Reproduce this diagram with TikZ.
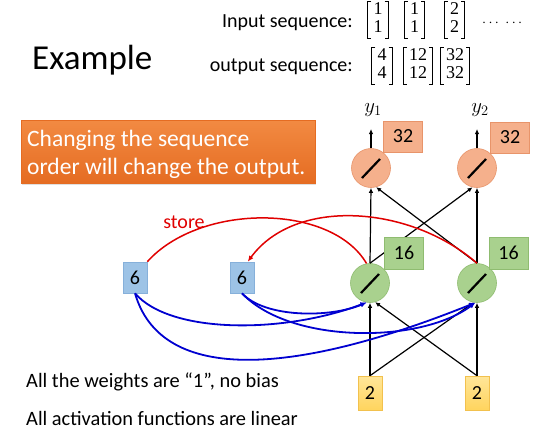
\documentclass[tikz,border=0pt]{standalone}
\usepackage{fontspec}
\setmainfont{Carlito}
\newfontfamily\matfont{Liberation Serif}
\usetikzlibrary{arrows.meta,shadows}
\definecolor{bannerTop}{HTML}{F28A42}
\definecolor{bannerBot}{HTML}{E56C22}
\definecolor{outFill}{HTML}{F5B08C}
\definecolor{outDraw}{HTML}{E8946A}
\definecolor{hidFill}{HTML}{A9D18E}
\definecolor{hidDraw}{HTML}{8FBC70}
\definecolor{memFill}{HTML}{9DC3E6}
\definecolor{memDraw}{HTML}{86B0DA}
\definecolor{inTop}{HTML}{FFE699}
\definecolor{inBot}{HTML}{FFD45E}
\definecolor{inDraw}{HTML}{F2C14E}
\definecolor{redLine}{HTML}{E00000}
\definecolor{blueLine}{HTML}{0000D0}
\newcommand{\vecnode}[5]{%
  \node[mat] (#1) at (#2,#3) {\begin{tabular}{@{}c@{}}#4\\#5\end{tabular}};
  \draw[brk] ([xshift=3.5pt]#1.north west) -- (#1.north west) -- (#1.south west) -- ([xshift=3.5pt]#1.south west);
  \draw[brk] ([xshift=-3.5pt]#1.north east) -- (#1.north east) -- (#1.south east) -- ([xshift=-3.5pt]#1.south east);}
\begin{document}
\begin{tikzpicture}[x=1pt,y=-1pt,
  txt/.style={inner sep=0pt,font=\fontsize{20}{24}\selectfont},
  mat/.style={inner xsep=5.5pt,inner ysep=1pt,font=\matfont\fontsize{18}{17.5}\selectfont},
  brk/.style={draw=black,line width=1pt},
  neuron/.style={circle,minimum size=39pt,inner sep=0pt,line width=0.6pt,
    path picture={\draw[black,line width=2.2pt] (path picture bounding box.center) ++(-9,10) -- ++(18,-19);}},
  outc/.style={neuron,fill=outFill,draw=outDraw},
  hidc/.style={neuron,fill=hidFill,draw=hidDraw},
  numbox/.style={rectangle,inner sep=0pt,line width=0.6pt,font=\fontsize{20}{24}\selectfont},
  outbox/.style={numbox,fill=outFill,draw=outDraw,minimum width=39pt,minimum height=31pt},
  hidbox/.style={numbox,fill=hidFill,draw=hidDraw,minimum width=39pt,minimum height=32pt},
  membox/.style={numbox,fill=memFill,draw=memDraw,minimum width=24pt,minimum height=31pt},
  inbox/.style={numbox,top color=inTop,bottom color=inBot,draw=inDraw,minimum width=24pt,minimum height=34pt},
  blk/.style={draw=black,line width=1.2pt,-{Latex[length=5pt,width=4.5pt]}},
  blu/.style={draw=blueLine,line width=1.8pt,-{Latex[length=6pt,width=5pt]}},
  red/.style={draw=redLine,line width=1.5pt},
  redarrow/.style={red,-{Latex[length=6pt,width=5pt]}}
]
\useasboundingbox[fill=white] (0,0) rectangle (554,440);

% header texts
\node[txt,anchor=base west,font=\fontsize{35}{42}\selectfont] (title) at (32,69) {Example};
\node[txt,anchor=base east] (inlab) at (353,27) {Input sequence:};
\node[txt,anchor=base east] (outlab) at (353,71) {output sequence:};
\vecnode{i1}{378}{20}{1}{1}
\vecnode{i2}{414.5}{20}{1}{1}
\vecnode{i3}{454.5}{20}{2}{2}
\node[inner sep=0pt,anchor=base west,font=\fontsize{15}{18}\selectfont] (dots) at (482,26) {$\cdots\;\cdots$};
\vecnode{o1}{382}{66}{4}{4}
\vecnode{o2}{418}{66}{12}{12}
\vecnode{o3}{455}{66}{32}{32}

% banner
\node[anchor=north west,rectangle,minimum width=294pt,minimum height=63pt,inner sep=0pt,
  top color=bannerTop,bottom color=bannerBot,draw=bannerBot,line width=0.4pt,
  drop shadow={opacity=0.25,shadow xshift=1pt,shadow yshift=-1.5pt}] (banner) at (21,120) {};
\node[txt,anchor=base west,text=white,font=\fontsize{23.5}{28}\selectfont] (b1) at (27,146) {Changing the sequence};
\node[txt,anchor=base west,text=white,font=\fontsize{23.5}{28}\selectfont] (b2) at (27,174) {order will change the output.};

% network nodes
\node[outc] (oL) at (371,168) {};
\node[outc] (oR) at (477,168) {};
\node[hidc] (hL) at (370,283) {};
\node[hidc] (hR) at (477,283) {};
\node[inbox] (iL) at (370,393) {2};
\node[inbox] (iR) at (477,393) {2};
\node[membox] (mL) at (135,277.5) {6};
\node[membox] (mR) at (242,277.5) {6};
\node[inner sep=0pt,font=\fontsize{20}{24}\selectfont] (yL) at (373,110) {$y_1$};
\node[inner sep=0pt,font=\fontsize{20}{24}\selectfont] (yR) at (480,110) {$y_2$};
\coordinate (yLa) at (371,129);
\coordinate (yRa) at (477,129);

% black connections
\draw[blk] (iL.north) -- (hL.south);
\draw[blk] (iL.north) -- (hR.-100);
\draw[blk] (iR.north) -- (hR.south);
\draw[blk] (iR.north) -- (hL.-75);
\draw[blk] (hL.north) -- (oL.south);
\draw[blk] (hL.north) -- (oR.-103);
\draw[blk] (hR.north) -- (oR.south);
\draw[blk] (hR.north) -- (oL.-75);
\draw[blk] (oL.north) -- (yLa);
\draw[blk] (oR.north) -- (yRa);

% blue connections
\draw[blu] (mL.south) .. controls (170,334) and (283,334) .. (hL.-100);
\draw[blu] (mL.south) .. controls (160,380) and (283,380) .. (hR.-95);
\draw[blu] (mR.south) .. controls (265,318) and (330,318) .. (hL.-100);
\draw[blu] (mR.south) .. controls (290,344) and (420,344) .. (hR.-95);

% red connections
\draw[red] (mL.north east) .. controls (200,203) and (331,203) .. (hL.100);
\draw[redarrow] (hR.north) .. controls (410,205) and (295,197) .. (mR.70);
\node[txt,text=redLine] (store) at (184,222) {store};

% value boxes
\node[outbox] (vL) at (403,136.5) {32};
\node[outbox] (vR) at (510,137.5) {32};
\node[hidbox] (hvL) at (404,253) {16};
\node[hidbox] (hvR) at (508.5,253) {16};

% bottom texts
\node[txt,anchor=base west,font=\fontsize{20.4}{24}\selectfont] (note1) at (26,387) {All the weights are “1”, no bias};
\node[txt,anchor=base west,font=\fontsize{20.4}{24}\selectfont] (note2) at (26,425) {All activation functions are linear};
\end{tikzpicture}
\end{document}
